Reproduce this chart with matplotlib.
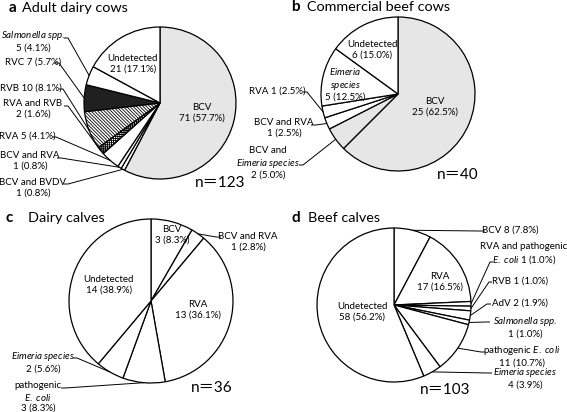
import matplotlib
matplotlib.use('Agg')
import matplotlib.pyplot as plt
from matplotlib.patches import Wedge
import numpy as np

plt.rcParams['font.family'] = ['Lato', 'Noto Sans CJK JP', 'DejaVu Sans']
plt.rcParams['mathtext.fontset'] = 'custom'
plt.rcParams['mathtext.rm'] = 'Lato'
plt.rcParams['mathtext.it'] = 'Lato:italic'
plt.rcParams['mathtext.bf'] = 'Lato:bold'
plt.rcParams['hatch.linewidth'] = 0.6

# ---------------- data ----------------
a_title = "Adult dairy cows"
a_names = ["BCV", "BCV and BVDV", "BCV and RVA", "RVA", "RVA and RVB", "RVB", "RVC",
           "Salmonella spp.", "Undetected"]
a_counts = [71, 1, 1, 5, 2, 10, 7, 5, 21]
a_pct = ["57.7", "0.8", "0.8", "4.1", "1.6", "8.1", "5.7", "4.1", "17.1"]
a_fill = ["dots", "white", "white", "white", "grid", "diag", "black", "white", "white"]
a_n = 123

b_title = "Commercial beef cows"
b_names = ["BCV", "BCV and Eimeria species", "BCV and RVA", "RVA", "Eimeria species", "Undetected"]
b_counts = [25, 2, 1, 1, 5, 6]
b_pct = ["62.5", "5.0", "2.5", "2.5", "12.5", "15.0"]
b_fill = ["dots", "dots", "white", "white", "white", "white"]
b_n = 40

c_title = "Dairy calves"
c_names = ["BCV", "BCV and RVA", "RVA", "pathogenic E. coli", "Eimeria species", "Undetected"]
c_counts = [3, 1, 13, 3, 2, 14]
c_pct = ["8.3", "2.8", "36.1", "8.3", "5.6", "38.9"]
c_fill = ["white"] * 6
c_n = 36

d_title = "Beef calves"
d_names = ["BCV", "RVA", "RVA and pathogenic E. coli", "RVB", "AdV", "Salmonella spp.",
           "pathogenic E. coli", "Eimeria species", "Undetected"]
d_counts = [8, 17, 1, 1, 2, 1, 11, 4, 58]
d_pct = ["7.8", "16.5", "1.0", "1.0", "1.9", "1.0", "10.7", "3.9", "56.2"]
d_fill = ["white"] * 9
d_n = 103

# ---------------- layout ----------------
W, H = 567, 412
SAL = r"$\mathit{Salmonella\ spp.}$"
EIM = r"$\mathit{Eimeria\ species}$"
ECO = r"$\mathit{E.\ coli}$"

# label spec: (slice index, template, x, y, leader) ; leader = (sx, sy, ex) or None
a_layout = dict(center=(160, 103), r=76, title=(9, 22, 8), nlab=(220, 183),
    labels=[
        (0, "BCV\n<n> (<p>%)", 202, 113, None),
        (8, "Undetected\n<n> (<p>%)", 133, 64, None),
        (7, SAL + "\n<n> (<p>%)", 33, 41, (64, 38, 68)),
        (6, "RVC <n> (<p>%)", 33, 62, (54, 63, 59)),
        (5, "RVB <n> (<p>%)", 31, 88, (59, 89, 63)),
        (4, "RVA and RVB\n<n> (<p>%)", 33, 109, (64, 106, 68)),
        (3, "RVA <n> (<p>%)", 27, 136, (52, 137, 56)),
        (2, "BCV and RVA\n<n> (<p>%)", 30, 161, (57, 158, 61)),
        (1, "BCV and BVDV\n<n> (<p>%)", 33, 188, (64, 184, 68)),
    ])
b_layout = dict(center=(398, 94), r=77, title=(291, 307, 7), nlab=(458, 175),
    labels=[
        (0, "BCV\n<n> (<p>%)", 435, 107, None),
        (5, "Undetected\n<n> (<p>%)", 372, 50, None),
        (4, r"$\mathit{Eimeria}$" + "\n" + r"$\mathit{species}$" + "\n<n> (<p>%)", 345, 84, None),
        (3, "RVA <n> (<p>%)", 277, 91, (303, 92, 307)),
        (2, "BCV and RVA\n<n> (<p>%)", 284, 128, (311, 125, 316)),
        (1, "BCV and\n" + EIM + "\n<n> (<p>%)", 268, 163, (299, 165, 303)),
    ])
c_layout = dict(center=(151, 301), r=82, title=(5, 28, 218), nlab=(212, 388),
    labels=[
        (0, "BCV\n<n> (<p>%)", 172, 235, None),
        (2, "RVA\n<n> (<p>%)", 198, 310, None),
        (5, "Undetected\n<n> (<p>%)", 109, 285, None),
        (1, "BCV and RVA\n<n> (<p>%)", 248, 242, (221, 237, 216)),
        (4, EIM + "\n<n> (<p>%)", 43, 362, (73, 358, 77)),
        (3, "pathogenic\n" + ECO + "\n<n> (<p>%)", 38, 397, (61, 388, 65)),
    ])
d_layout = dict(center=(394, 305), r=77, title=(292, 308, 218), nlab=(445, 390),
    labels=[
        (1, "RVA\n<n> (<p>%)", 440, 282, None),
        (8, "Undetected\n<n> (<p>%)", 362, 312, None),
        (0, "BCV <n> (<p>%)", 510, 230, (485, 231, 480)),
        (2, "RVA and pathogenic\n" + ECO + " <n> (<p>%)", 524, 254, (493, 262, 490)),
        (3, "RVB <n> (<p>%)", 520, 281, (492, 282, 489)),
        (4, "AdV <n> (<p>%)", 520, 303, (491, 304, 487)),
        (5, SAL + "\n<n> (<p>%)", 525, 327, (490, 322, 486)),
        (6, "pathogenic " + ECO + "\n<n> (<p>%)", 522, 356, (485, 352, 481)),
        (7, EIM + "\n<n> (<p>%)", 525, 378, (492, 373, 488)),
    ])

FS = 7.0

fig = plt.figure(figsize=(W / 100, H / 100), dpi=100)
ax = fig.add_axes([0, 0, 1, 1])


def draw_panel(letter, title, counts, pct, fills, n, lay):
    cx, cy = lay['center']
    r = lay['r']
    wedges, _ = ax.pie(counts, startangle=90, counterclock=False,
                       center=(cx, H - cy), radius=r, colors=['white'] * len(counts),
                       wedgeprops=dict(edgecolor='black', linewidth=0.9))
    for w, f in zip(wedges, fills):
        if f == 'dots':
            w.set_facecolor('#e6e6e6')
            ov = Wedge(w.center, w.r, w.theta1, w.theta2, facecolor='none',
                       edgecolor='#7a7a7a', hatch='.....', linewidth=0,
                       zorder=w.get_zorder() - 0.01)
            ax.add_patch(ov)
        elif f == 'diag':
            w.set_hatch('\\\\\\\\\\\\\\\\\\\\')
        elif f == 'grid':
            w.set_hatch('++++++++')
        elif f == 'black':
            w.set_facecolor('#202020')
    for idx, tmpl, x, y, lead in lay['labels']:
        s = tmpl.replace('<n>', str(counts[idx])).replace('<p>', pct[idx])
        ax.text(x, H - y, s, ha='center', va='center', fontsize=FS,
                linespacing=1.15, multialignment='center')
        if lead is not None:
            sx, sy, ex = lead
            w = wedges[idx]
            th = np.deg2rad((w.theta1 + w.theta2) / 2)
            tx = w.center[0] + w.r * np.cos(th)
            ty = w.center[1] + w.r * np.sin(th)
            ax.plot([sx, ex, tx], [H - sy, H - sy, ty], color='black', lw=0.7,
                    solid_capstyle='butt')
    lx, tx0, ty0 = lay['title']
    ax.text(lx, H - ty0, letter, fontsize=11, fontweight='bold', ha='left', va='center')
    ax.text(tx0, H - ty0, title, fontsize=10.4, ha='left', va='center')
    nx, ny = lay['nlab']
    ax.text(nx, H - ny, "n＝{}".format(n), fontsize=11, ha='center', va='center')


draw_panel('a', a_title, a_counts, a_pct, a_fill, a_n, a_layout)
draw_panel('b', b_title, b_counts, b_pct, b_fill, b_n, b_layout)
draw_panel('c', c_title, c_counts, c_pct, c_fill, c_n, c_layout)
draw_panel('d', d_title, d_counts, d_pct, d_fill, d_n, d_layout)

ax.set_xlim(0, W)
ax.set_ylim(0, H)
ax.set_aspect('auto')
ax.axis('off')
fig.savefig('out.png', dpi=100, facecolor='white')
